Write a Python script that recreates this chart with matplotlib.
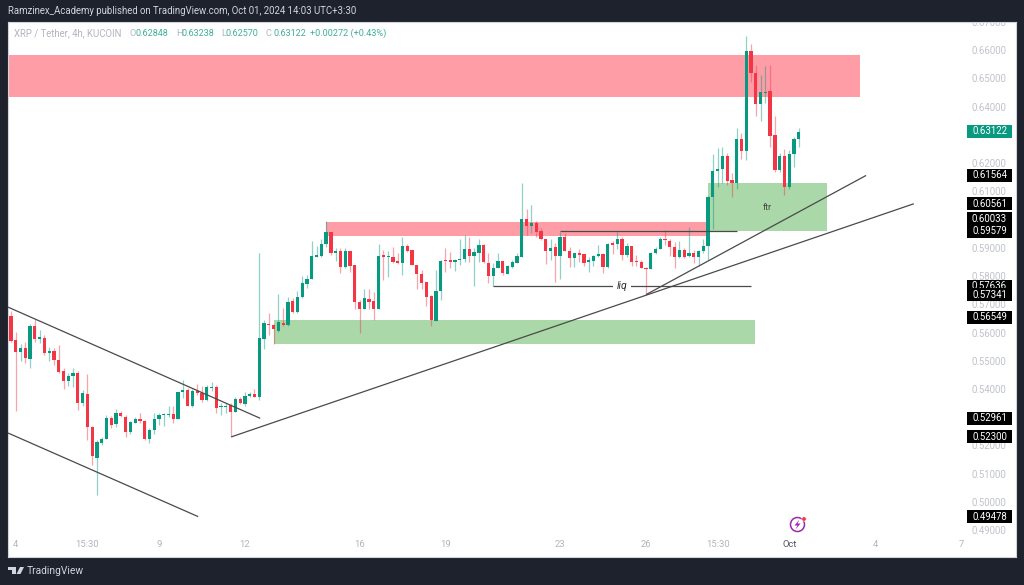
import matplotlib
matplotlib.use("Agg")
import matplotlib.pyplot as plt
from matplotlib.patches import Rectangle, Polygon, Circle
from matplotlib.transforms import IdentityTransform
import numpy as np

opens = [
 .5591,.5659,.5574,.5531,.5546,.5505,.5623,.5578,.5581,.5526,
 .5536,.5503,.5463,.5427,.5446,.5458,.5349,.5382,.5266,.5156,
 .5210,.5222,.5297,.5276,.5316,.5302,.5248,.5281,.5293,.5288,
 .5224,.5255,.5295,.5306,.5309,.5312,.5294,.5391,.5395,.5338,
 .5392,.5385,.5360,.5402,.5408,.5336,.5336,.5342,.5320,.5364,
 .5347,.5375,.5382,.5373,.5578,.5629,.5625,.5606,.5632,.5626,
 .5711,.5672,.5727,.5771,.5791,.5868,.5871,.5912,.5957,.5880,
 .5888,.5833,.5888,.5839,.5707,.5684,.5720,.5711,.5685,.5873,
 .5866,.5868,.5852,.5845,.5908,.5892,.5839,.5806,.5780,.5730,
 .5640,.5748,.5856,.5856,.5850,.5856,.5860,.5895,.5871,.5880,
 .5909,.5847,.5800,.5829,.5852,.5809,.5833,.5848,.5869,.6002,
 .5977,.5989,.5961,.5930,.5890,.5902,.5871,.5939,.5890,.5864,
 .5880,.5878,.5850,.5854,.5870,.5879,.5831,.5916,.5913,.5933,
 .5874,.5906,.5853,.5850,.5830,.5825,.5883,.5897,.5932,.5924,
 .5904,.5866,.5892,.5871,.5880,.5869,.5887,.5906,.6079,.6173,
 .6178,.6227,.6140,.6131,.6285,.6244,.6597,.6520,.6409,.6449,
 .6454,.6299,.6175,.6227,.6114,.6232,.6286]
closes = [
 .5659,.5570,.5531,.5546,.5508,.5623,.5576,.5583,.5529,.5536,
 .5503,.5460,.5427,.5446,.5458,.5349,.5385,.5264,.5161,.5213,
 .5222,.5297,.5274,.5316,.5305,.5249,.5283,.5293,.5287,.5224,
 .5255,.5295,.5307,.5312,.5312,.5295,.5390,.5397,.5340,.5392,
 .5385,.5361,.5406,.5408,.5334,.5340,.5340,.5320,.5364,.5349,
 .5375,.5382,.5372,.5579,.5635,.5625,.5611,.5638,.5625,.5709,
 .5671,.5727,.5774,.5791,.5871,.5873,.5912,.5957,.5880,.5888,
 .5833,.5888,.5836,.5707,.5682,.5722,.5708,.5685,.5871,.5868,
 .5868,.5850,.5845,.5908,.5889,.5839,.5806,.5774,.5727,.5644,
 .5747,.5854,.5853,.5850,.5856,.5862,.5895,.5871,.5885,.5909,
 .5850,.5801,.5829,.5852,.5812,.5835,.5849,.5871,.6002,.5977,
 .5987,.5957,.5930,.5890,.5898,.5871,.5939,.5890,.5864,.5880,
 .5876,.5847,.5857,.5871,.5879,.5831,.5913,.5910,.5933,.5873,
 .5906,.5851,.5849,.5830,.5825,.5883,.5897,.5930,.5928,.5904,
 .5866,.5892,.5866,.5880,.5869,.5887,.5906,.6079,.6171,.6178,
 .6227,.6138,.6131,.6285,.6244,.6598,.6520,.6411,.6452,.6452,
 .6297,.6175,.6225,.6116,.6232,.6286,.6312]
highs = [
 .5668,.5677,.5603,.5559,.5568,.5630,.5647,.5609,.5591,.5550,
 .5544,.5556,.5473,.5456,.5473,.5465,.5397,.5453,.5269,.5220,
 .5229,.5308,.5305,.5328,.5322,.5308,.5288,.5302,.5316,.5290,
 .5261,.5316,.5314,.5316,.5340,.5338,.5391,.5432,.5402,.5399,
 .5418,.5411,.5414,.5426,.5413,.5352,.5349,.5352,.5373,.5373,
 .5391,.5391,.5399,.5882,.5644,.5668,.5630,.5736,.5688,.5727,
 .5721,.5748,.5800,.5803,.5925,.5906,.5933,.5994,.5957,.5901,
 .5901,.5898,.5889,.5839,.5715,.5753,.5753,.5744,.5915,.5894,
 .5888,.5904,.5880,.5937,.5913,.5892,.5839,.5821,.5780,.5732,
 .5821,.5856,.5898,.5884,.5862,.5930,.5945,.5937,.5898,.5933,
 .5913,.5880,.5845,.5880,.5854,.5839,.5856,.5880,.6131,.6036,
 .6051,.5996,.5969,.5933,.5930,.5918,.5957,.5954,.5904,.5883,
 .5895,.5878,.5866,.5874,.5910,.5880,.5918,.5925,.5957,.5937,
 .5916,.5906,.5873,.5857,.5831,.5886,.5904,.5939,.5963,.5933,
 .5922,.5925,.5898,.5975,.5892,.5892,.5930,.6085,.6232,.6252,
 .6258,.6237,.6166,.6326,.6305,.6650,.6621,.6547,.6512,.6544,
 .6547,.6367,.6237,.6249,.6246,.6291,.6323]
lows = [
 .5591,.5565,.5323,.5499,.5493,.5473,.5568,.5562,.5520,.5500,
 .5485,.5456,.5399,.5411,.5406,.5326,.5340,.5220,.5131,.5025,
 .5202,.5222,.5261,.5267,.5300,.5231,.5241,.5279,.5279,.5220,
 .5210,.5241,.5273,.5269,.5300,.5281,.5293,.5367,.5338,.5335,
 .5379,.5355,.5359,.5394,.5316,.5308,.5316,.5234,.5320,.5347,
 .5338,.5373,.5371,.5361,.5540,.5591,.5558,.5603,.5623,.5623,
 .5670,.5670,.5724,.5756,.5788,.5868,.5868,.5904,.5876,.5854,
 .5812,.5827,.5815,.5682,.5599,.5682,.5685,.5644,.5684,.5786,
 .5795,.5845,.5841,.5803,.5886,.5839,.5753,.5754,.5694,.5623,
 .5640,.5715,.5813,.5827,.5819,.5839,.5850,.5850,.5766,.5850,
 .5848,.5776,.5766,.5827,.5803,.5806,.5827,.5845,.5869,.5945,
 .5954,.5937,.5928,.5843,.5857,.5780,.5790,.5890,.5833,.5831,
 .5851,.5836,.5815,.5836,.5869,.5812,.5827,.5878,.5895,.5857,
 .5866,.5836,.5836,.5827,.5736,.5824,.5878,.5895,.5910,.5871,
 .5827,.5863,.5863,.5866,.5845,.5836,.5883,.5857,.5967,.6114,
 .6128,.6122,.6079,.6107,.6213,.6211,.6488,.6367,.6350,.6414,
 .6256,.6169,.6169,.6087,.6107,.6185,.6258]

price_ticks = [.67,.66,.65,.64,.62,.61,.59,.58,.57,.56,.55,.54,.52,.51,.50,.49]
date_pos = [2,17,32,50,74,92,116,134,149,164,182,200]
date_labels = ["4","15:30","9","12","16","19","23","26","15:30","Oct","4","7"]
price_tags = [.61564,.60561,.60033,.59579,.57636,.57341,.56549,.52961,.52300,.49478]
last_price = .63122

UP = "#089981"; DOWN = "#F23645"; BG = "#1E222D"; GREY = "#B2B5BE"
W, H = 1024, 585
fig = plt.figure(figsize=(W/100, H/100), dpi=100, facecolor=BG)
plt.rcParams['font.family'] = 'Roboto'
ax = fig.add_axes([8/W, 1-557/H, 1008/W, 535/H], facecolor="white")
ax.set_xlim(0.372, 211.5); ax.set_ylim(.48047, .66992)
for s in ax.spines.values():
    s.set_color("#D1D4DC"); s.set_linewidth(0.8)

idx = np.arange(len(opens))
o, c, h, l = map(np.array, (opens, closes, highs, lows))
up = c >= o
cols = np.where(up, UP, DOWN)

# zones
ZR = "#FF9DA7"; ZG = "#AAD8A8"
ax.add_patch(Rectangle((0, .6434), 178.8, .6582-.6434, fc=ZR, ec="none", zorder=1))
ax.add_patch(Rectangle((67, .5942), 146.8-67, .5991-.5942, fc=ZR, ec="none", zorder=1))
ax.add_patch(Rectangle((56, .5559), 156.8-56, .5644-.5559, fc=ZG, ec="none", zorder=1))
ax.add_patch(Rectangle((147, .5960), 171.9-147, .6128-.5960, fc=ZG, ec="none", zorder=1))

# candles
ax.vlines(idx, l, h, colors=cols, linewidth=0.9, alpha=0.45, zorder=3)
ax.bar(idx, np.maximum(np.abs(c-o), .0004), bottom=np.minimum(o, c), width=0.68, color=cols, linewidth=0, zorder=4)

# trend lines
LC = "#4A4A4A"
for xs, ys in [((.37, 53.2), (.5690, .52961)), ((.37, 40.2), (.5244, .49478)),
               ((47.1, 190.1), (.5230, .60561)), ((134, 180.1), (.57341, .61564)),
               ((116, 153.1), (.59579, .59579)), ((102, 156), (.57636, .57636))]:
    ax.plot(xs, ys, color=LC, lw=0.9, zorder=5, solid_capstyle="butt")
ax.text(129, .57636, "liq", ha="center", va="center", fontsize=7.5, style="italic", color="#333333",
        zorder=6, bbox=dict(fc="white", ec="none", pad=2.5))
ax.text(159.4, .6044, "ftr", ha="center", va="center", fontsize=6.5, color="#444444", zorder=6)

# axis labels
ax.yaxis.tick_right()
ax.set_yticks(price_ticks)
ax.set_yticklabels([f"{p:.5f}" for p in price_ticks], fontsize=6.9, color="#C0C3CA")
ax.tick_params(axis="y", length=0, pad=-32)
for t_ in ax.get_yticklabels():
    t_.set_clip_path(ax.patch); t_.set_clip_on(True)
ax.set_xticks(date_pos)
ax.set_xticklabels(date_labels, fontsize=6.8, color="#B2B5BE")
ax.tick_params(axis="x", length=0, pad=-12)
ax.get_xticklabels()[9].set_color("#50535E")

# price tags
def tag(p, fc, z):
    ax.add_patch(Rectangle((201.25, p-.0023), 9.4, .0046, fc=fc, ec="none", zorder=z))
    ax.text(205.95, p, f"{p:.5f}", color="white", ha="center", va="center", fontsize=6.9, zorder=z+.1,
            clip_on=True, clip_box=None)
for n, p in enumerate(price_tags):
    tag(p, "black", 7+n)
tag(last_price, UP, 7)

# header / legend
def t(x, y, s, **kw):
    fig.text(x/W, 1-y/H, s, va="center", **kw)
t(8, 11.5, "Ramzinex_Academy published on TradingView.com, Oct 01, 2024 14:03 UTC+3:30", fontsize=6.9, color="#D1D4DC")
t(14, 33, "XRP / Tether, 4h, KUCOIN", fontsize=6.9, color="#B2B5BE", zorder=20)
VAL = "#3FAE9B"
for lab, lx, val, vx in [("O",129,"0.62848",136),("H",176,"0.63238",182),("L",221,"0.62570",226),("C",265,"0.63122",273)]:
    t(lx, 33, lab, fontsize=6.7, color="#B2B5BE", zorder=20)
    t(vx, 33, val, fontsize=6.5, color=VAL, zorder=20)
t(310, 33, "+0.00272 (+0.43%)", fontsize=6.6, color=VAL, zorder=20)

# footer logo and name
px = lambda x, y: (x/W, 1-y/H)
LG = "#D1D4DC"
fig.add_artist(Polygon([px(8,567),px(16,567),px(16,574),px(12,574),px(12,570),px(8,570)], transform=fig.transFigure, fc=LG, ec="none"))
fig.add_artist(Polygon([px(20,567),px(24,567),px(20.5,574),px(16.5,574)], transform=fig.transFigure, fc=LG, ec="none"))
t(27, 571, "TradingView", fontsize=7.4, color="#D1D4DC")

# lightning badge
PUR = "#9C27B0"; ID = IdentityTransform()
dp = lambda x, y: (x, H-y)
fig.add_artist(Circle(dp(797.5,524.5), 7, transform=ID, fill=False, ec=PUR, lw=1.1, zorder=30))
fig.add_artist(Polygon([dp(799.5,519.5),dp(794.5,525.5),dp(797.5,525.5),dp(795.5,529.5),dp(800.5,523.5),dp(797.5,523.5)],
                       transform=ID, fc=PUR, ec="none", zorder=30))
fig.add_artist(Circle(dp(804,519), 2.2, transform=ID, fc="#F23645", ec="white", lw=0.4, zorder=31))

fig.savefig("out.png", dpi=100, facecolor=BG)
